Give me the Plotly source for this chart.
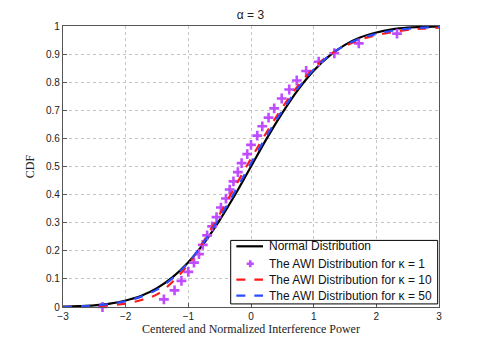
import plotly.graph_objects as go

x_grid = [-3, -2.75, -2.5, -2.25, -2, -1.75, -1.5, -1.25, -1, -0.75, -0.5, -0.25, 0,
          0.25, 0.5, 0.75, 1, 1.25, 1.5, 1.75, 2, 2.25, 2.5, 2.75, 3]
normal_cdf = [0.001, 0.003, 0.006, 0.012, 0.023, 0.040, 0.067, 0.106, 0.159, 0.227, 0.309, 0.401, 0.500,
              0.599, 0.691, 0.773, 0.841, 0.894, 0.933, 0.960, 0.977, 0.988, 0.994, 0.997, 0.999]
awi_k10 = [0.000, 0.001, 0.003, 0.006, 0.012, 0.025, 0.045, 0.090, 0.152, 0.236, 0.330, 0.430, 0.528,
           0.622, 0.710, 0.787, 0.850, 0.897, 0.929, 0.952, 0.967, 0.978, 0.986, 0.991, 0.994]
awi_k50 = [0.000, 0.002, 0.005, 0.011, 0.021, 0.037, 0.062, 0.103, 0.158, 0.232, 0.318, 0.413, 0.512,
           0.609, 0.699, 0.779, 0.845, 0.895, 0.931, 0.956, 0.972, 0.983, 0.990, 0.994, 0.997]

# kappa = 1 points (plus markers)
k1_x = [-2.37, -1.39, -1.22, -1.11, -1.00, -0.91, -0.83, -0.77, -0.70, -0.62, -0.55, -0.48, -0.40,
        -0.34, -0.28, -0.21, -0.15, -0.06, 0.00, 0.10, 0.18, 0.28, 0.37, 0.49, 0.61, 0.73, 0.88,
        1.08, 1.33, 1.72, 2.33]
k1_y = [0.0, 0.027, 0.059, 0.093, 0.125, 0.158, 0.188, 0.221, 0.255, 0.287, 0.320, 0.354, 0.386,
        0.418, 0.447, 0.480, 0.512, 0.544, 0.577, 0.610, 0.643, 0.674, 0.707, 0.742, 0.774, 0.806,
        0.840, 0.873, 0.903, 0.938, 0.973]

x_ticks = [-3, -2, -1, 0, 1, 2, 3]
x_tick_text = ['\u22123', '\u22122', '\u22121', '0', '1', '2', '3']
y_ticks = [0, 0.1, 0.2, 0.3, 0.4, 0.5, 0.6, 0.7, 0.8, 0.9, 1]
y_tick_text = ['0', '0.1', '0.2', '0.3', '0.4', '0.5', '0.6', '0.7', '0.8', '0.9', '1']

legend_names = ['Normal Distribution', 'The AWI Distribution for \u03ba = 1',
                'The AWI Distribution for \u03ba = 10', 'The AWI Distribution for \u03ba = 50']

BLACK, PURPLE, RED, BLUE = 'black', '#bf4dff', '#ff1a1a', '#2a4dff'

fig = go.Figure()

fig.add_trace(go.Scatter(x=x_grid, y=normal_cdf, mode='lines', name=legend_names[0],
                         line=dict(color=BLACK, width=2.2, shape='spline')))
fig.add_trace(go.Scatter(x=k1_x, y=k1_y, mode='markers', name=legend_names[1],
                         marker=dict(symbol='cross-thin', size=7, color=PURPLE,
                                     line=dict(width=2.6, color=PURPLE)),
                         cliponaxis=False))
fig.add_trace(go.Scatter(x=x_grid, y=awi_k10, mode='lines', name=legend_names[2],
                         line=dict(color=RED, width=2.2, dash='dash', shape='spline')))
fig.add_trace(go.Scatter(x=x_grid, y=awi_k50, mode='lines', name=legend_names[3],
                         line=dict(color=BLUE, width=2.2, dash='dash', shape='spline')))

# compact MATLAB-style legend box drawn by hand (plotly's rows are too tall)
fig.add_shape(type='rect', xref='paper', yref='paper', x0=0.446, x1=0.9965, y0=0.011, y1=0.237,
              fillcolor='white', line=dict(color='black', width=1))
row_y = [0.216, 0.154, 0.0975, 0.0406]
styles = [(BLACK, 'solid'), None, (RED, 'dash'), (BLUE, 'dash')]
for name, ry, st in zip(legend_names, row_y, styles):
    if st is None:
        cx, dx, dy = 0.498, 0.0095, 0.0128
        fig.add_shape(type='path', xref='paper', yref='paper',
                      path=f'M {cx-dx},{ry} L {cx+dx},{ry} M {cx},{ry-dy} L {cx},{ry+dy}',
                      line=dict(color=PURPLE, width=2.6))
    else:
        fig.add_shape(type='line', xref='paper', yref='paper', x0=0.461, x1=0.532, y0=ry, y1=ry,
                      line=dict(color=st[0], width=2.2, dash=st[1]))
    fig.add_annotation(x=0.543, y=ry, xref='paper', yref='paper', text=name, showarrow=False,
                       xanchor='left', yanchor='middle',
                       font=dict(family='Liberation Sans, Arial', size=12, color='#111'))

axis_common = dict(showline=True, mirror=True, linecolor='#555', linewidth=1.2,
                   ticks='inside', ticklen=4, tickcolor='#555',
                   showgrid=True, gridcolor='#c4c4c4', griddash='dot', gridwidth=1,
                   zeroline=False, tickfont=dict(family='Liberation Sans, Arial', size=10, color='#222'))

# page body has an 8px margin, so the margins are offset to land the plot area in place
fig.update_layout(
    width=485, height=346,
    margin=dict(l=55, r=54, t=18, b=47),
    paper_bgcolor='white', plot_bgcolor='white',
    showlegend=False,
    title=dict(text='\u03b1 = 3', x=0.5, xanchor='center', y=0.98, yanchor='middle',
               font=dict(family='Liberation Sans, Arial', size=12, color='#222')),
    xaxis=dict(range=[-3, 3], tickvals=x_ticks, ticktext=x_tick_text,
               title=dict(text='Centered and Normalized Interference Power', standoff=2,
                          font=dict(family='Liberation Serif, Times New Roman', size=12, color='#222')),
               **axis_common),
    yaxis=dict(range=[0, 1], tickvals=y_ticks, ticktext=y_tick_text,
               title=dict(text='CDF', standoff=8,
                          font=dict(family='Liberation Serif, Times New Roman', size=12, color='#222')),
               **axis_common),
)

fig.write_html('out.html')
